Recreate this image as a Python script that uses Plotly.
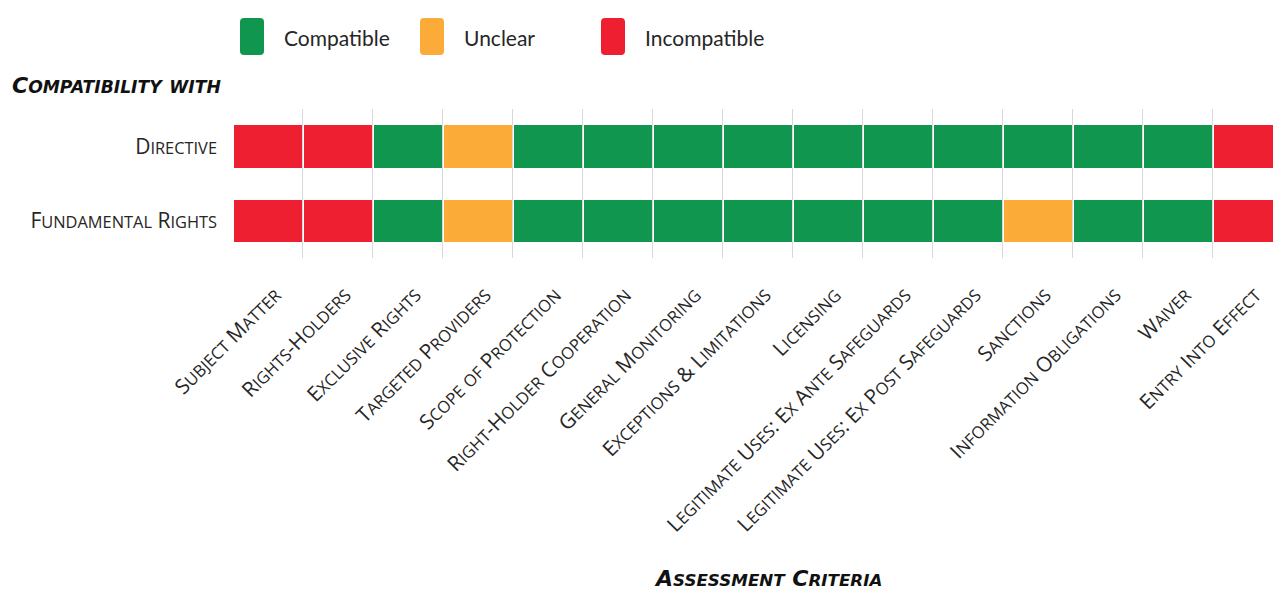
import plotly.graph_objects as go

# ---- data ----
criteria = [
    "Subject Matter", "Rights-Holders", "Exclusive Rights", "Targeted Providers",
    "Scope of Protection", "Right-Holder Cooperation", "General Monitoring",
    "Exceptions & Limitations", "Licensing", "Legitimate Uses: Ex Ante Safeguards",
    "Legitimate Uses: Ex Post Safeguards", "Sanctions", "Information Obligations",
    "Waiver", "Entry Into Effect",
]
rows = ["Directive", "Fundamental Rights"]
directive = ["Incompatible", "Incompatible", "Compatible", "Unclear", "Compatible",
             "Compatible", "Compatible", "Compatible", "Compatible", "Compatible",
             "Compatible", "Compatible", "Compatible", "Compatible", "Incompatible"]
fundamental_rights = ["Incompatible", "Incompatible", "Compatible", "Unclear", "Compatible",
                      "Compatible", "Compatible", "Compatible", "Compatible", "Compatible",
                      "Compatible", "Unclear", "Compatible", "Compatible", "Incompatible"]
statuses = ["Compatible", "Unclear", "Incompatible"]
colors = {"Compatible": "#10964F", "Unclear": "#FBAB38", "Incompatible": "#ED1F31"}

code = {"Incompatible": 0, "Unclear": 1, "Compatible": 2}
z = [[code[s] for s in directive], [code[s] for s in fundamental_rights]]

W, H = 1273, 593
ML, MR, MT, MB = 233, 0, 109, 335
PW, PH = W - ML - MR, H - MT - MB

def px(x):
    return (x - ML) / PW

def py(y):
    return (H - MB - y) / PH

def sc(text, size, ratio=0.8):
    """Small caps: lowercase runs become smaller uppercase."""
    out, run = [], ""
    small = round(size * ratio, 1)
    for ch in text:
        if ch.islower():
            run += ch.upper()
        else:
            if run:
                out.append(f'<span style="font-size:{small}px">{run}</span>')
                run = ""
            out.append(ch)
    if run:
        out.append(f'<span style="font-size:{small}px">{run}</span>')
    return "".join(out)

FONT = "Open Sans"
TXT = "#262626"
XSIZE, YSIZE, TSIZE = 20.7, 21, 22

x_labels = [sc(c, XSIZE) for c in criteria]
y_labels = [sc(r, YSIZE, 0.78) for r in rows]

fig = go.Figure()
cs = [[0, colors["Incompatible"]], [0.3333, colors["Incompatible"]],
      [0.3334, colors["Unclear"]], [0.6666, colors["Unclear"]],
      [0.6667, colors["Compatible"]], [1, colors["Compatible"]]]
fig.add_trace(go.Heatmap(
    z=z, x=x_labels, y=y_labels, zmin=0, zmax=2, colorscale=cs, showscale=False,
    xgap=2, ygap=32, hoverinfo="skip",
))

fig.update_xaxes(
    type="category", range=[-0.5, 14.36], tickson="boundaries",
    showgrid=True, gridcolor="#d9d9d9", gridwidth=1, zeroline=False,
    ticks="", tickangle=-45, ticklabelstandoff=20, ticklabelshift=7,
    tickfont=dict(family=FONT, size=XSIZE, color=TXT),
    showline=False, fixedrange=True,
)
fig.update_yaxes(
    type="category", autorange="reversed", showgrid=False, zeroline=False,
    ticks="", ticklabelstandoff=15,
    tickfont=dict(family=FONT, size=YSIZE, color=TXT),
    showline=False, fixedrange=True,
)

# legend swatches (rounded) + labels
def rrect(x0, y0, x1, y1, r=4):
    X0, X1 = px(x0), px(x1)
    Y0, Y1 = py(y0), py(y1)
    rx, ry = r / PW, r / PH
    return (f"M {X0+rx},{Y0} L {X1-rx},{Y0} Q {X1},{Y0} {X1},{Y0-ry} "
            f"L {X1},{Y1+ry} Q {X1},{Y1} {X1-rx},{Y1} L {X0+rx},{Y1} "
            f"Q {X0},{Y1} {X0},{Y1+ry} L {X0},{Y0-ry} Q {X0},{Y0} {X0+rx},{Y0} Z")

leg_x = {"Compatible": 240, "Unclear": 420, "Incompatible": 601}
shapes, anns = [], []
for s in statuses:
    x0 = leg_x[s]
    shapes.append(dict(type="path", xref="paper", yref="paper",
                       path=rrect(x0, 18, x0 + 24, 55), fillcolor=colors[s],
                       line=dict(width=0), layer="above"))
    anns.append(dict(x=px(x0 + 42), y=py(37), xref="paper", yref="paper",
                     text=s, showarrow=False, xanchor="left", yanchor="middle",
                     font=dict(family="Lato", size=21, color=TXT)))

TFONT = dict(family="DejaVu Sans", size=TSIZE, color="#111")
anns.append(dict(x=px(10), y=py(85), xref="paper", yref="paper",
                 text="<b><i>" + sc("Compatibility with", TSIZE, 0.78) + "</i></b>",
                 showarrow=False, xanchor="left", yanchor="middle", font=TFONT))
anns.append(dict(x=px(768), y=py(578), xref="paper", yref="paper",
                 text="<b><i>" + sc("Assessment Criteria", TSIZE, 0.76) + "</i></b>",
                 showarrow=False, xanchor="center", yanchor="middle", font=TFONT,
                 borderpad=0))

fig.update_layout(
    width=W, height=H, autosize=False,
    margin=dict(l=ML, r=MR, t=MT, b=MB, pad=0),
    plot_bgcolor="white", paper_bgcolor="white",
    showlegend=False, shapes=shapes, annotations=anns,
)

fig.write_html(
    "out.html", config={"displayModeBar": False},
    post_script="document.body.style.margin='0';document.body.style.overflow='hidden';",
)
